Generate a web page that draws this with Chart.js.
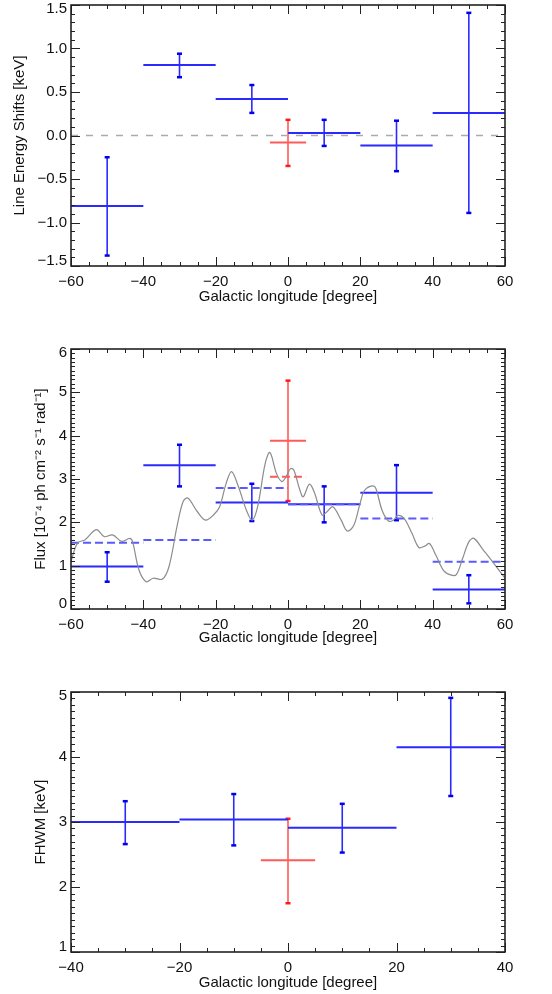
<!DOCTYPE html>
<html>
<head>
<meta charset="utf-8">
<script src="https://cdn.jsdelivr.net/npm/chart.js@4.4.1/dist/chart.umd.min.js"></script>
<style>
  body { margin: 0; background: #fff; }
  .panel { position: absolute; left: 0; }
</style>
</head>
<body>
<div class="panel" style="top:0px"><canvas id="shiftChart" width="552" height="306"></canvas></div>
<div class="panel" style="top:306px"><canvas id="fluxChart" width="552" height="341"></canvas></div>
<div class="panel" style="top:647px"><canvas id="fwhmChart" width="552" height="345"></canvas></div>
<script>
// ── Line energy shifts (top) ─────────────────────────────────
const shiftLo    = [-60, -40, -20, 0, 20, 40];
const shiftHi    = [-40, -20, 0, 20, 40, 60];
const shiftX     = [-50, -30, -10, 10, 30, 50];
const shiftVal   = [-0.81, 0.81, 0.42, 0.03, -0.115, 0.26];
const shiftErrLo = [-1.38, 0.67, 0.26, -0.12, -0.41, -0.89];
const shiftErrHi = [-0.25, 0.94, 0.58, 0.18, 0.17, 1.41];
const shiftGc    = { lo: -5, hi: 5, x: 0, val: -0.08, errLo: -0.35, errHi: 0.18 };

// ── Flux (middle) ────────────────────────────────────────────
const fluxLo    = [-60, -40, -20, 0, 20, 40];
const fluxHi    = [-40, -20, 0, 20, 40, 60];
const fluxX     = [-50, -30, -10, 10, 30, 50];
const fluxVal   = [0.98, 3.32, 2.46, 2.42, 2.68, 0.45];
const fluxErrLo = [0.63, 2.83, 2.03, 2.00, 2.05, 0.13];
const fluxErrHi = [1.31, 3.79, 2.89, 2.83, 3.32, 0.78];
const fluxModel = [1.53, 1.59, 2.79, 2.42, 2.09, 1.09];
const fluxGc    = { lo: -5, hi: 5, x: 0, val: 3.88, errLo: 2.49, errHi: 5.27, model: 3.05 };

const profileL = [-60, -58.2, -56.1, -53.0, -50.8, -48.5, -46.0, -43.8, -43.0, -41.2, -39.2, -37.3,
                  -34.7, -32.9, -30.7, -29.0, -27.7, -25.1, -22.8, -20.6, -18.9, -17.1, -15.6, -13.7,
                  -11.5, -9.9, -8.4, -6.3, -5.0, -3.2, -1.7, -0.6, 0.7, 1.6, 3.3, 4.2, 5.9, 7.2, 9.4,
                  10.7, 12.4, 14.7, 16.4, 18.2, 19.9, 21.2, 23.4, 24.3, 26.0, 27.8, 29.1, 30.4, 32.1,
                  34.3, 36.2, 37.8, 39.1, 40.9, 43.1, 45.2, 46.6, 48.3, 50.0, 51.4, 54.0, 56.0, 60];
const profileF = [1.10, 1.52, 1.60, 1.83, 1.67, 1.71, 1.56, 1.63, 1.56, 0.90, 0.63, 0.71,
                  0.69, 0.98, 1.90, 2.48, 2.56, 2.25, 2.05, 2.17, 2.36, 2.90, 3.17, 2.82,
                  2.28, 2.05, 2.36, 3.36, 3.61, 3.13, 2.94, 3.04, 3.24, 3.21, 2.74, 2.59, 2.88, 2.71, 2.17,
                  2.24, 2.36, 2.05, 1.80, 1.93, 2.43, 2.74, 2.84, 2.78, 2.28, 2.03, 2.05, 2.16, 2.09,
                  1.74, 1.42, 1.45, 1.51, 1.24, 0.88, 0.78, 0.80, 1.17, 1.55, 1.63, 1.36, 1.15, 0.71];

// ── FWHM (bottom) ────────────────────────────────────────────
const fwhmLo    = [-40, -20, 0, 20];
const fwhmHi    = [-20, 0, 20, 40];
const fwhmX     = [-30, -10, 10, 30];
const fwhmVal   = [3.00, 3.04, 2.91, 4.15];
const fwhmErrLo = [2.66, 2.64, 2.53, 3.40];
const fwhmErrHi = [3.32, 3.43, 3.28, 4.91];
const fwhmGc    = { lo: -5, hi: 5, x: 0, val: 2.41, errLo: 1.75, errHi: 3.05 };

const BLUE = "#2a2aff", BLUE_CAP = "#0000ee", BLUE_DASH = "#5a5aff";
const RED = "#ff5a5a", RED_CAP = "#ff1a1a";
const FONT = "'Liberation Sans', Arial, Helvetica, sans-serif";
const minus = s => String(s).replace("-", "\u2212");

function errorBar(lo, hi, x, val, eLo, eHi, color, cap) {
    return [
        { data: [{ x: lo, y: val }, { x: hi, y: val }], borderColor: color, borderWidth: 2, pointRadius: 0 },
        { data: [{ x: x, y: eLo }, { x: x, y: eHi }], borderColor: color, borderWidth: 1.6,
          pointStyle: "line", pointRadius: 2.5, pointBorderWidth: 2.5, pointBorderColor: cap }
    ];
}

function binSets(lo, hi, x, val, eLo, eHi, color, cap) {
    return x.flatMap((c, i) => errorBar(lo[i], hi[i], c, val[i], eLo[i], eHi[i], color, cap));
}

function dashSeg(lo, hi, v, color, width, dash) {
    return { data: [{ x: lo, y: v }, { x: hi, y: v }], borderColor: color, borderWidth: width,
             borderDash: dash, pointRadius: 0 };
}

// box round the plot with IDL-style inward ticks on all four sides
const boxTicks = {
    id: "boxTicks",
    beforeDraw(chart) {
        // pull the end labels of the y axis inside the box, as IDL does
        const items = chart.scales.y.getLabelItems();
        if (items.length) {
            items[0].options.translation[1] -= 5;
            items[items.length - 1].options.translation[1] += 4;
        }
    },
    afterDraw(chart, args, o) {
        const { ctx, chartArea: a, scales: { x, y } } = chart;
        ctx.save();
        ctx.strokeStyle = "#222";
        ctx.lineWidth = 1;
        const mark = (s, step, len) => {
            const n = Math.round((s.max - s.min) / step);
            for (let i = 0; i <= n; i++) {
                const p = Math.round(s.getPixelForValue(s.min + i * step)) + 0.5;
                ctx.beginPath();
                if (s.isHorizontal()) {
                    ctx.moveTo(p, a.bottom); ctx.lineTo(p, a.bottom - len);
                    ctx.moveTo(p, a.top);    ctx.lineTo(p, a.top + len);
                } else {
                    ctx.moveTo(a.left, p);  ctx.lineTo(a.left + len, p);
                    ctx.moveTo(a.right, p); ctx.lineTo(a.right - len, p);
                }
                ctx.stroke();
            }
        };
        mark(x, o.xMinor, 4); mark(x, o.xMajor, 9);
        mark(y, o.yMinor, 4); mark(y, o.yMajor, 9);
        ctx.lineWidth = 1.6;
        ctx.strokeRect(a.left, a.top, a.width, a.height);
        ctx.restore();
    }
};

function makeChart(id, cfg) {
    new Chart(document.getElementById(id), {
        type: "scatter",
        data: { datasets: cfg.datasets.map(d => Object.assign({ showLine: true, fill: false, pointHoverRadius: 0 }, d)) },
        options: {
            responsive: false,
            animation: false,
            devicePixelRatio: 1,
            layout: { padding: { top: cfg.padTop, right: 47, left: 0, bottom: 0 } },
            events: [],
            plugins: { legend: { display: false }, tooltip: { enabled: false }, boxTicks: cfg.ticks },
            scales: {
                x: {
                    type: "linear", min: cfg.xMin, max: cfg.xMax,
                    grid: { display: false, drawTicks: false }, border: { display: false },
                    ticks: { stepSize: 20, color: "#111", padding: 7, maxRotation: 0,
                             font: { family: FONT, size: 15 }, callback: v => minus(v) },
                    title: { display: true, text: "Galactic longitude [degree]", color: "#111",
                             font: { family: FONT, size: 15 }, padding: { top: 0, bottom: 0 } },
                    afterFit: s => { s.height = cfg.xHeight; s.paddingLeft = 0; s.paddingRight = 0; }
                },
                y: {
                    type: "linear", min: cfg.yMin, max: cfg.yMax,
                    grid: { display: false, drawTicks: false }, border: { display: false },
                    ticks: { stepSize: cfg.yStep, color: "#111", padding: 4,
                             font: { family: FONT, size: 15 }, callback: cfg.yFmt },
                    title: { display: true, text: cfg.yTitle, color: "#111",
                             font: { family: FONT, size: 15 }, padding: { top: cfg.yTitlePad, bottom: 0 } },
                    afterFit: s => { s.width = 71; s.paddingTop = 0; s.paddingBottom = 0; }
                }
            }
        },
        plugins: [boxTicks]
    });
}

makeChart("shiftChart", {
    padTop: 5, xHeight: 40, xMin: -60, xMax: 60, yMin: -1.5, yMax: 1.5, yStep: 0.5,
    yFmt: v => minus(v.toFixed(1)), yTitle: "Line Energy Shifts [keV]", yTitlePad: 11,
    ticks: { xMajor: 20, xMinor: 5, yMajor: 0.5, yMinor: 0.1 },
    datasets: [
        dashSeg(-60, 60, 0, "#aaaaaa", 1.5, [7, 8]),
        ...binSets(shiftLo, shiftHi, shiftX, shiftVal, shiftErrLo, shiftErrHi, BLUE, BLUE_CAP),
        ...errorBar(shiftGc.lo, shiftGc.hi, shiftGc.x, shiftGc.val, shiftGc.errLo, shiftGc.errHi, RED, RED_CAP)
    ]
});

makeChart("fluxChart", {
    padTop: 43, xHeight: 38, xMin: -60, xMax: 60, yMin: 0, yMax: 6, yStep: 1,
    yFmt: v => String(v), yTitle: "Flux [10\u207B\u2074 ph cm\u207B\u00B2 s\u207B\u00B9 rad\u207B\u00B9]", yTitlePad: 32,
    ticks: { xMajor: 20, xMinor: 5, yMajor: 1, yMinor: 0.1 },
    datasets: [
        { data: profileL.map((l, i) => ({ x: l, y: profileF[i] })), borderColor: "#8c8c8c",
          borderWidth: 1.2, pointRadius: 0, tension: 0.35 },
        ...fluxX.map((c, i) => dashSeg(fluxLo[i], fluxHi[i], fluxModel[i], BLUE_DASH, 2, [8, 4])),
        dashSeg(fluxGc.lo, fluxGc.hi, fluxGc.model, RED, 2, [8, 4]),
        ...binSets(fluxLo, fluxHi, fluxX, fluxVal, fluxErrLo, fluxErrHi, BLUE, BLUE_CAP),
        ...errorBar(fluxGc.lo, fluxGc.hi, fluxGc.x, fluxGc.val, fluxGc.errLo, fluxGc.errHi, RED, RED_CAP)
    ]
});

makeChart("fwhmChart", {
    padTop: 45, xHeight: 40, xMin: -40, xMax: 40, yMin: 1, yMax: 5, yStep: 1,
    yFmt: v => String(v), yTitle: "FHWM [keV]", yTitlePad: 32,
    ticks: { xMajor: 20, xMinor: 5, yMajor: 1, yMinor: 0.1 },
    datasets: [
        ...binSets(fwhmLo, fwhmHi, fwhmX, fwhmVal, fwhmErrLo, fwhmErrHi, BLUE, BLUE_CAP),
        ...errorBar(fwhmGc.lo, fwhmGc.hi, fwhmGc.x, fwhmGc.val, fwhmGc.errLo, fwhmGc.errHi, RED, RED_CAP)
    ]
});
</script>
</body>
</html>
